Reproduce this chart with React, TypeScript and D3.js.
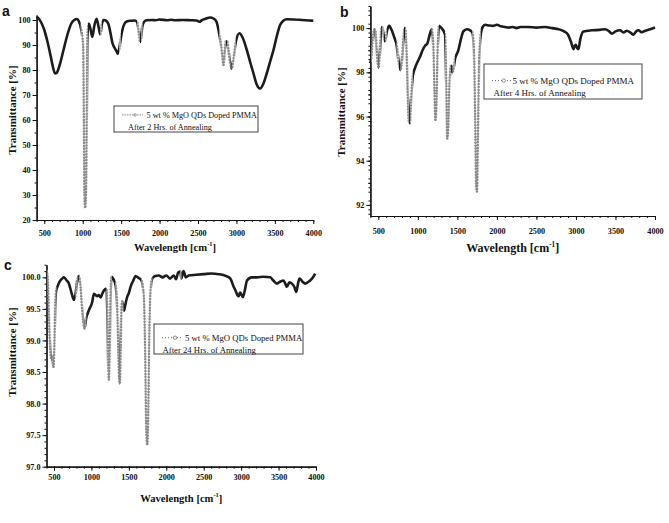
import { useEffect, useRef } from "react";
import * as d3 from "d3";

// FTIR spectra of 5 wt % MgO QDs doped PMMA, three annealing times
const waveA = [400, 430, 460, 500, 540, 580, 610, 640, 665, 700, 750, 800, 850, 890, 925, 950, 975, 1005, 1015, 1022, 1032, 1042, 1052, 1058, 1068, 1080, 1100, 1125, 1150, 1180, 1205, 1228, 1250, 1272, 1300, 1333, 1360, 1385, 1412, 1440, 1456, 1475, 1495, 1516, 1545, 1573, 1620, 1681, 1710, 1730, 1745, 1760, 1776, 1800, 1833, 1900, 1950, 2000, 2100, 2150, 2200, 2300, 2400, 2480, 2520, 2549, 2600, 2658, 2700, 2740, 2779, 2800, 2815, 2831, 2845, 2860, 2880, 2900, 2920, 2940, 2960, 2990, 3039, 3080, 3135, 3180, 3221, 3260, 3308, 3350, 3395, 3440, 3482, 3525, 3568, 3610, 3655, 3750, 3850, 3950, 4000];
const transA = [101.2, 100.5, 99, 96, 91.5, 86, 81.5, 78.6, 79, 82, 88, 94, 98.5, 100, 100.4, 99.5, 97, 90, 60, 30, 24.8, 30, 60, 90, 97, 98.5, 96.5, 93.3, 97.5, 100.5, 97.5, 94.2, 98.5, 100, 99.8, 98.5, 95, 91, 89, 87.5, 86.5, 88.5, 92.5, 96, 98.6, 99.4, 99.7, 99.8, 99, 95, 91.2, 93, 97.5, 99.3, 99.9, 100, 99.9, 100.2, 99.9, 100.1, 99.9, 100, 99.9, 99.8, 99.3, 99.9, 100.5, 101, 100.6, 99.3, 94, 90, 86, 82, 87, 91.3, 91.5, 87, 82.5, 80.5, 84, 91, 94.7, 93, 88, 83, 78.7, 74.5, 72.6, 74.5, 78.7, 83.5, 88, 93.5, 98, 99.7, 100.3, 100.2, 100, 99.8, 99.7];

const waveB = [395, 410, 430, 450, 462, 480, 495, 505, 518, 535, 550, 570, 585, 605, 636, 670, 700, 733, 760, 783, 800, 820, 838, 855, 870, 885, 900, 915, 935, 965, 1000, 1027, 1060, 1091, 1120, 1150, 1176, 1195, 1210, 1222, 1235, 1250, 1268, 1300, 1345, 1360, 1372, 1385, 1400, 1420, 1441, 1470, 1513, 1545, 1576, 1620, 1661, 1690, 1710, 1725, 1738, 1748, 1760, 1775, 1795, 1820, 1851, 1900, 1950, 2000, 2050, 2100, 2150, 2200, 2250, 2300, 2400, 2500, 2610, 2700, 2780, 2850, 2900, 2940, 2968, 2985, 2999, 3015, 3032, 3055, 3095, 3200, 3300, 3370, 3420, 3454, 3500, 3559, 3600, 3644, 3690, 3728, 3760, 3791, 3830, 3876, 3940, 4000];
const transB = [98.4, 98.6, 99.5, 99.95, 99.9, 99, 98.3, 98.2, 98.8, 99.9, 100.05, 99.6, 99.4, 99.8, 100.1, 99.9, 99.6, 99.2, 98.4, 98.1, 98.6, 99.7, 100, 99.2, 97.2, 95.8, 95.7, 96.8, 97.8, 98.2, 98.5, 98.7, 99, 99.2, 99.3, 99.7, 99.95, 99.3, 97.2, 95.8, 96.5, 99, 100.1, 100, 99.7, 97.5, 95, 95.5, 97.5, 98.3, 98, 98.6, 99, 99.5, 99.85, 99.95, 99.9, 99.8, 99, 96, 92.8, 92.6, 95, 98.5, 99.7, 100.05, 100.15, 100.12, 100.1, 100.15, 100.08, 100.05, 100.02, 100.05, 100, 100.05, 100.05, 100.02, 100.05, 100, 99.95, 99.85, 99.7, 99.35, 99.05, 99.2, 99.25, 99.1, 99.05, 99.5, 99.85, 99.9, 99.92, 99.95, 99.85, 99.75, 99.85, 99.9, 99.8, 99.88, 99.8, 99.7, 99.85, 99.9, 99.82, 99.88, 99.95, 100.03];

const waveC = [405, 420, 435, 450, 465, 478, 492, 505, 515, 530, 545, 570, 600, 633, 670, 700, 735, 767, 790, 812, 833, 855, 875, 895, 909, 930, 967, 1011, 1033, 1055, 1078, 1100, 1123, 1145, 1167, 1190, 1203, 1215, 1225, 1233, 1242, 1252, 1262, 1270, 1295, 1323, 1345, 1362, 1372, 1380, 1392, 1403, 1412, 1425, 1435, 1450, 1478, 1500, 1523, 1560, 1589, 1630, 1670, 1700, 1718, 1732, 1745, 1757, 1772, 1790, 1812, 1850, 1900, 1950, 2000, 2050, 2100, 2130, 2160, 2189, 2200, 2230, 2260, 2300, 2400, 2500, 2600, 2700, 2800, 2856, 2900, 2922, 2950, 2967, 2985, 2998, 3024, 3050, 3078, 3140, 3211, 3300, 3389, 3430, 3478, 3520, 3567, 3590, 3611, 3645, 3678, 3710, 3736, 3760, 3780, 3820, 3856, 3900, 3922, 3960, 3989];
const transC = [100.1, 99.9, 99.3, 98.85, 98.7, 98.75, 98.57, 98.9, 99.5, 99.8, 99.85, 99.92, 99.97, 100, 99.95, 99.9, 99.75, 99.64, 99.75, 99.97, 100.02, 99.85, 99.5, 99.25, 99.19, 99.35, 99.48, 99.61, 99.74, 99.72, 99.7, 99.72, 99.68, 99.74, 99.79, 99.82, 99.8, 99.3, 98.6, 98.38, 98.7, 99.5, 99.95, 100.01, 99.97, 99.88, 99.5, 98.7, 98.35, 98.32, 98.9, 99.55, 99.62, 99.52, 99.47, 99.55, 99.69, 99.75, 99.85, 99.95, 100.02, 99.99, 99.95, 99.7, 98.8, 97.6, 97.34, 97.7, 99, 99.8, 99.98, 100.02, 100.03, 100, 100.03, 99.98, 100.03, 99.97, 100.08, 100.09, 99.98, 100.1, 100, 100.03, 100.04, 100.05, 100.06, 100.05, 100.02, 99.98, 99.85, 99.8, 99.72, 99.7, 99.76, 99.74, 99.69, 99.8, 99.95, 100, 100, 100.01, 100, 99.95, 99.9, 99.93, 99.95, 99.9, 99.85, 99.92, 99.9, 99.85, 99.77, 99.9, 99.98, 99.93, 99.9, 99.93, 99.95, 100, 100.06];

const xTicks = [500, 1000, 1500, 2000, 2500, 3000, 3500, 4000];
const yTicksA = [20, 30, 40, 50, 60, 70, 80, 90, 100];
const yTicksB = [92, 94, 96, 98, 100];
const yTicksC = [97.0, 97.5, 98.0, 98.5, 99.0, 99.5, 100.0];

const legendTitle = "5 wt % MgO QDs Doped PMMA";
const legendNotes = ["After 2 Hrs. of Annealing", "After 4 Hrs. of Annealing", "After 24 Hrs. of Annealing"];
const panelLetters = ["a", "b", "c"];

const serif = "'Liberation Serif', 'Times New Roman', serif";

type Spec = {
  letter: string; letterX: number; letterY: number;
  wave: number[]; trans: number[];
  x0: number; x1: number; yTop: number; yBot: number;
  yDomain: [number, number]; yTicks: number[]; yMinor: number; yFmt: string;
  xLabelY: number; titleY: number; titleSize: number; yTitleX: number; yTitleY: number;
  box: [number, number, number, number]; line1Y: number; line2Y: number;
  symX: [number, number]; textX: number; noteX: number; legSize: number; dashed: boolean;
  note: string;
};

function drawPanel(root: d3.Selection<SVGSVGElement, unknown, null, undefined>, s: Spec) {
  const x = d3.scaleLinear().domain([400, 4000]).range([s.x0, s.x1]);
  const y = d3.scaleLinear().domain(s.yDomain).range([s.yBot, s.yTop]);
  const g = root.append("g");

  // axes
  const xAxis = g.append("g").attr("transform", `translate(0,${s.yBot})`)
    .call(d3.axisBottom(x).tickValues(xTicks).tickSize(4).tickSizeOuter(0).tickFormat(d3.format("d")));
  g.append("g").attr("transform", `translate(0,${s.yBot})`)
    .call(d3.axisBottom(x).tickValues(d3.range(400, 4001, 100)).tickSize(2).tickSizeOuter(0).tickFormat(() => ""));
  const yAxis = g.append("g").attr("transform", `translate(${s.x0},0)`)
    .call(d3.axisLeft(y).tickValues(s.yTicks).tickSize(4).tickSizeOuter(0).tickFormat(d3.format(s.yFmt)));
  const minor = d3.range(s.yDomain[0], s.yDomain[1] + 1e-9, s.yMinor)
    .map((v) => Math.round(v / s.yMinor) * s.yMinor)
    .filter((v) => v >= s.yDomain[0] - 1e-9 && v <= s.yDomain[1] + 1e-9);
  g.append("g").attr("transform", `translate(${s.x0},0)`)
    .call(d3.axisLeft(y).tickValues(minor).tickSize(2).tickSizeOuter(0).tickFormat(() => ""));
  g.selectAll(".domain").attr("stroke", "#111").attr("stroke-width", 1.2);
  g.selectAll(".tick line").attr("stroke", "#111");
  [xAxis, yAxis].forEach((a) =>
    a.selectAll("text").attr("font-family", serif).attr("font-weight", "bold")
      .attr("font-size", 8.2).attr("fill", "#111"));
  xAxis.selectAll("text").attr("y", s.xLabelY - s.yBot).attr("dy", 0);
  yAxis.selectAll("text").attr("x", -6);

  // spectrum: dense parts dark, steep parts drawn as grey open markers
  const pts: [number, number][] = s.wave.map((w, i) => [x(w), y(s.trans[i])]);
  const steep: [number, number][] = [];
  for (let k = 0; k < pts.length - 1; k++) {
    const dx = pts[k + 1][0] - pts[k][0];
    const dy = Math.abs(pts[k + 1][1] - pts[k][1]);
    if (dy / dx > 5.5) {
      const last = steep[steep.length - 1];
      if (last && last[1] >= pts[k][0]) last[1] = pts[k + 1][0];
      else steep.push([pts[k][0], pts[k + 1][0]]);
    }
  }
  const flat: [number, number][] = [];
  let start = s.x0 - 10;
  steep.forEach((r) => { flat.push([start, r[0]]); start = r[1]; });
  flat.push([start, s.x1 + 10]);

  const defs = root.append("defs");
  const addClip = (id: string, ranges: [number, number][]) => {
    const cp = defs.append("clipPath").attr("id", id);
    ranges.forEach((r) => cp.append("rect").attr("x", r[0]).attr("y", 0)
      .attr("width", Math.max(0, r[1] - r[0])).attr("height", 523));
  };
  addClip(`flat-${s.letter}`, flat);
  addClip(`steep-${s.letter}`, steep);

  const line = d3.line<[number, number]>().x((d) => d[0]).y((d) => d[1]).curve(d3.curveMonotoneX);
  g.append("path").attr("d", line(pts)).attr("fill", "none")
    .attr("stroke", "#1c1c1c").attr("stroke-width", 2.6).attr("stroke-linejoin", "round")
    .attr("clip-path", `url(#flat-${s.letter})`);
  g.append("path").attr("d", line(pts)).attr("fill", "none")
    .attr("stroke", "#b5b5b5").attr("stroke-width", 0.7)
    .attr("clip-path", `url(#steep-${s.letter})`);
  g.append("path").attr("d", line(pts)).attr("fill", "none")
    .attr("stroke", "#8a8a8a").attr("stroke-width", 2.5).attr("stroke-linecap", "round")
    .attr("stroke-dasharray", "0 2.9")
    .attr("clip-path", `url(#steep-${s.letter})`);

  // titles
  const xt = g.append("text").attr("x", (s.x0 + s.x1) / 2).attr("y", s.titleY)
    .attr("text-anchor", "middle").attr("font-family", serif).attr("font-weight", "bold")
    .attr("font-size", s.titleSize).attr("fill", "#111");
  xt.append("tspan").text("Wavelength [cm");
  xt.append("tspan").attr("dy", -s.titleSize * 0.38).attr("font-size", s.titleSize * 0.6).text("-1");
  xt.append("tspan").attr("dy", s.titleSize * 0.38).text("]");
  g.append("text").attr("transform", `translate(${s.yTitleX},${s.yTitleY}) rotate(-90)`)
    .attr("text-anchor", "middle").attr("font-family", serif).attr("font-weight", "bold")
    .attr("font-size", 11).attr("fill", "#111").text("Transmittance [%]");
  g.append("text").attr("x", s.letterX).attr("y", s.letterY)
    .attr("font-family", "'Liberation Sans', Arial, sans-serif").attr("font-weight", "bold")
    .attr("font-size", 14).attr("fill", "#111").text(s.letter);

  // legend
  const [bx0, by0, bx1, by1] = s.box;
  g.append("rect").attr("x", bx0).attr("y", by0).attr("width", bx1 - bx0).attr("height", by1 - by0)
    .attr("fill", "#fff").attr("stroke", "#444").attr("stroke-width", 1);
  const symY = s.line1Y - s.legSize * 0.32;
  g.append("line").attr("x1", s.symX[0]).attr("x2", s.symX[1]).attr("y1", symY).attr("y2", symY)
    .attr("stroke", "#666").attr("stroke-width", s.dashed ? 0.8 : 1)
    .attr("stroke-dasharray", s.dashed ? "1.5 1" : "1 2");
  g.append("circle").attr("cx", s.symX[0] + (s.symX[1] - s.symX[0]) * 0.62).attr("cy", symY)
    .attr("r", s.dashed ? 1.2 : 1.7).attr("fill", "#fff").attr("stroke", "#777").attr("stroke-width", 0.8);
  g.append("text").attr("x", s.textX).attr("y", s.line1Y).attr("font-family", serif)
    .attr("font-size", s.legSize).attr("fill", "#111").text(legendTitle);
  g.append("text").attr("x", s.noteX).attr("y", s.line2Y).attr("font-family", serif)
    .attr("font-size", s.legSize).attr("fill", "#111").text(s.note);
}

export default function App() {
  const ref = useRef<SVGSVGElement>(null);

  useEffect(() => {
    if (!ref.current) return;
    const svg = d3.select(ref.current);
    svg.selectAll("*").remove();

    const specs: Spec[] = [
      {
        letter: panelLetters[0], letterX: 2, letterY: 16, wave: waveA, trans: transA,
        x0: 36.6, x1: 313.3, yTop: 15, yBot: 220, yDomain: [20, 102], yTicks: yTicksA, yMinor: 5, yFmt: "d",
        xLabelY: 236, titleY: 250.5, titleSize: 10.6, yTitleX: 15.5, yTitleY: 110,
        box: [114, 106, 258, 132], line1Y: 117.5, line2Y: 129.5, symX: [122, 143], textX: 146.5, noteX: 128,
        legSize: 8.2, dashed: true, note: legendNotes[0],
      },
      {
        letter: panelLetters[1], letterX: 340, letterY: 17, wave: waveB, trans: transB,
        x0: 370.4, x1: 655, yTop: 6, yBot: 216, yDomain: [91.5, 101], yTicks: yTicksB, yMinor: 0.2, yFmt: "d",
        xLabelY: 234, titleY: 252, titleSize: 12, yTitleX: 345, yTitleY: 112,
        box: [484, 64, 642, 99], line1Y: 83.5, line2Y: 96, symX: [492, 511], textX: 512.5, noteX: 493.5,
        legSize: 9, dashed: false, note: legendNotes[1],
      },
      {
        letter: panelLetters[2], letterX: 4, letterY: 270, wave: waveC, trans: transC,
        x0: 46.5, x1: 316, yTop: 264.7, yBot: 466.7, yDomain: [97, 100.2], yTicks: yTicksC, yMinor: 0.1, yFmt: ".1f",
        xLabelY: 480.5, titleY: 501.5, titleSize: 10.6, yTitleX: 15.5, yTitleY: 352,
        box: [154, 324, 303, 354], line1Y: 340.5, line2Y: 352.5, symX: [162, 183], textX: 185, noteX: 162.5,
        legSize: 8.7, dashed: false, note: legendNotes[2],
      },
    ];
    specs.forEach((s) => drawPanel(svg, s));
  }, []);

  return (
    <svg ref={ref} width={669} height={523}
      style={{ position: "absolute", left: 0, top: 0, background: "#fff" }} />
  );
}
